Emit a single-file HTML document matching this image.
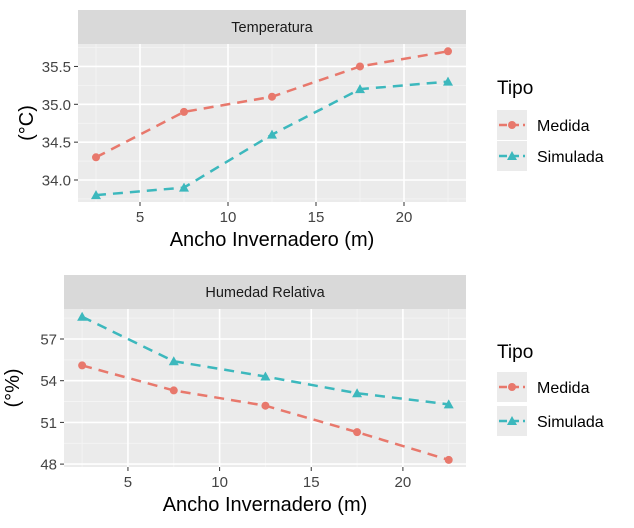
<!DOCTYPE html>
<html><head><meta charset="utf-8"><style>
body{margin:0;background:#fff;}
svg{display:block;font-family:"Liberation Sans",sans-serif;}
</style></head><body>
<svg id="chart" width="634" height="528"></svg>
<script>
const xCats=[2.5,7.5,12.5,17.5,22.5];
const tempMedida=[34.3,34.9,35.1,35.5,35.7];
const tempSimulada=[33.8,33.9,34.6,35.2,35.3];
const humMedida=[55.1,53.3,52.2,50.3,48.3];
const humSimulada=[58.6,55.4,54.3,53.1,52.3];
const xTicks=[5,10,15,20];
const tempTicks=[34.0,34.5,35.0,35.5];
const humTicks=[48,51,54,57];

const NS="http://www.w3.org/2000/svg";
const svg=document.getElementById('chart');
function mk(t,a,p){const e=document.createElementNS(NS,t);for(const k in a)e.setAttribute(k,a[k]);(p||svg).appendChild(e);return e;}
const C1="#e8786c",C2="#3cb8bd";

function panel(o){
  const g=mk('g',{});
  
  
  const sx=v=>o.x0+v*o.xs, sy=v=>o.yRef-(v-o.vRef)*o.ys;
  mk('rect',{x:o.L,y:o.T-34,width:o.R-o.L,height:34,fill:'#d9d9d9'},g);
  const st=mk('text',{x:(o.L+o.R)/2,y:o.T-12,'text-anchor':'middle','font-size':14.5,fill:'#1a1a1a'},g);st.textContent=o.title;
  
  mk('rect',{x:o.L,y:o.T,width:o.R-o.L,height:o.B-o.T,fill:'#ebebeb'},g);
  for(let i=0;i<xTicks.length+1;i++){const v=xTicks[0]-2.5+i*5;const X=sx(v);if(X>o.L&&X<o.R)mk('line',{x1:X,x2:X,y1:o.T,y2:o.B,stroke:'#f5f5f5','stroke-width':0.8},g);}
  const d=o.ticks[1]-o.ticks[0];
  for(let i=-1;i<=o.ticks.length;i++){const v=o.ticks[0]+(i+0.5)*d;const Y=sy(v);if(Y>o.T&&Y<o.B)mk('line',{x1:o.L,x2:o.R,y1:Y,y2:Y,stroke:'#f5f5f5','stroke-width':0.8},g);}
  xTicks.forEach(v=>{const X=sx(v);mk('line',{x1:X,x2:X,y1:o.T,y2:o.B,stroke:'#fff','stroke-width':1.6},g);
    mk('line',{x1:X,x2:X,y1:o.B,y2:o.B+4,stroke:'#333'},g);
    const t=mk('text',{x:X,y:o.B+20,'text-anchor':'middle','font-size':15,fill:'#444'},g);t.textContent=v;});
  o.ticks.forEach(v=>{const Y=sy(v);mk('line',{x1:o.L,x2:o.R,y1:Y,y2:Y,stroke:'#fff','stroke-width':1.6},g);
    mk('line',{x1:o.L-4,x2:o.L,y1:Y,y2:Y,stroke:'#333'},g);
    const t=mk('text',{x:o.L-7,y:Y+5.5,'text-anchor':'end','font-size':15,fill:'#444'},g);t.textContent=o.fmt(v);});
  const xt=mk('text',{x:(o.L+o.R)/2,y:o.B+44,'text-anchor':'middle','font-size':20,fill:'#000'},g);xt.textContent='Ancho Invernadero (m)';
  
  const yt=mk('text',{x:0,y:0,'text-anchor':'middle','font-size':20,fill:'#000',transform:`translate(${o.L-45},${(o.T+o.B)/2}) rotate(-90)`},g);yt.textContent=o.ylab;
  
  [[o.a,C1,'medida'],[o.b,C2,'simulada']].forEach(([arr,c,n])=>{
    const pts=arr.map((v,i)=>sx(xCats[i])+','+sy(v)).join(' ');
    const l=mk('polyline',{points:pts,fill:'none',stroke:c,'stroke-width':2.5,'stroke-dasharray':'10,7'},g);
    
    arr.forEach((v,i)=>{const X=sx(xCats[i]),Y=sy(v);let m;
      if(n==='medida')m=mk('circle',{cx:X,cy:Y,r:4,fill:c},g);
      else m=mk('polygon',{points:`${X},${Y-5} ${X-5},${Y+4} ${X+5},${Y+4}`,fill:c},g);
      });
  });
  const lg=mk('g',{},g);
  const tt=mk('text',{x:497,y:o.legY,'font-size':19,fill:'#000'},lg);tt.textContent='Tipo';
  [['Medida',C1,0],['Simulada',C2,1]].forEach(([lab,c,k])=>{
    const Y=o.legY+o.legOff+k*o.legGap;
    mk('rect',{x:497,y:Y-15,width:30,height:30,fill:'#ebebeb'},lg);
    mk('line',{x1:499,x2:525,y1:Y,y2:Y,stroke:c,'stroke-width':2.5,'stroke-dasharray':'8,4'},lg);
    if(k==0)mk('circle',{cx:512,cy:Y,r:4,fill:c},lg);else mk('polygon',{points:`512,${Y-5} 507,${Y+4} 517,${Y+4}`,fill:c},lg);
    const t=mk('text',{x:537,y:Y+6,'font-size':16,fill:'#000'},lg);t.textContent=lab;
    
  });
}
panel({name:'temperature-panel',title:'Temperatura',L:78,R:466,T:44,B:202,x0:52,xs:17.6,yRef:104.3,vRef:35,ys:75.7,
  ticks:tempTicks,fmt:v=>v.toFixed(1),ylab:'(°C)',a:tempMedida,b:tempSimulada,legY:94,legOff:31,legGap:31});
panel({name:'humidity-panel',title:'Humedad Relativa',L:64,R:466,T:309,B:467,x0:36.3,xs:18.33,yRef:380.7,vRef:54,ys:13.9,
  ticks:humTicks,fmt:v=>v,ylab:'(°%)',a:humMedida,b:humSimulada,legY:358,legOff:29,legGap:34});
</script>
</body></html>
